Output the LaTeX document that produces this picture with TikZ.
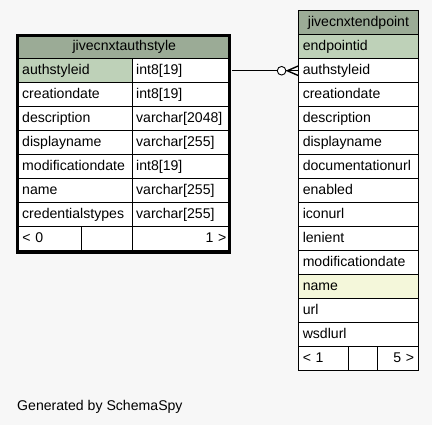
\documentclass[tikz,border=0pt]{standalone}
\usepackage{fontspec}
\setmainfont{Liberation Sans}
\usetikzlibrary{calc}
\definecolor{bgc}{HTML}{F7F7F7}
\definecolor{headc}{HTML}{9BAB96}
\definecolor{pkc}{HTML}{BED1B8}
\definecolor{idxc}{HTML}{F4F7DA}
\tikzset{
  cell/.style={draw=black, line width=0.9pt, fill=white, anchor=north west,
    inner xsep=4pt, inner ysep=0pt, minimum height=24pt,
    text height=10.5pt, text depth=2.5pt,
    font=\fontsize{14.1}{16}\selectfont, align=left},
  headcell/.style={cell, fill=headc, align=center},
  pkcell/.style={cell, fill=pkc},
  idxcell/.style={cell, fill=idxc},
  rcell/.style={cell, align=right},
  conn/.style={line width=0.9pt, draw=black},
}
\begin{document}
\begin{tikzpicture}[x=1pt,y=-1pt]
\fill[bgc] (0,0) rectangle (432,425);
\useasboundingbox (0,0) rectangle (432,425);

% ---------- left table: jivecnxtauthstyle ----------
\node[headcell, text width=203.7pt] (lhead) at (18,34.3) {jivecnxtauthstyle};
\node[pkcell, text width=106.2pt, inner xsep=3.75pt] (l1a) at (18,58.3) {authstyleid};
\node[cell, text width=90.3pt] (l1b) at (131.7,58.3) {int8[19]};
\node[cell, text width=106.2pt, inner xsep=3.75pt] (l2a) at (18,82.3) {creationdate};
\node[cell, text width=90.3pt] (l2b) at (131.7,82.3) {int8[19]};
\node[cell, text width=106.2pt, inner xsep=3.75pt] (l3a) at (18,106.3) {description};
\node[cell, text width=90.3pt] (l3b) at (131.7,106.3) {varchar[2048]};
\node[cell, text width=106.2pt, inner xsep=3.75pt] (l4a) at (18,130.3) {displayname};
\node[cell, text width=90.3pt] (l4b) at (131.7,130.3) {varchar[255]};
\node[cell, text width=106.2pt, inner xsep=3.75pt] (l5a) at (18,154.3) {modificationdate};
\node[cell, text width=90.3pt] (l5b) at (131.7,154.3) {int8[19]};
\node[cell, text width=106.2pt, inner xsep=3.75pt] (l6a) at (18,178.3) {name};
\node[cell, text width=90.3pt] (l6b) at (131.7,178.3) {varchar[255]};
\node[cell, text width=106.2pt, inner xsep=3.75pt] (l7a) at (18,202.3) {credentialstypes};
\node[cell, text width=90.3pt] (l7b) at (131.7,202.3) {varchar[255]};
\node[cell, text width=55pt] (lf1) at (18,226.3) {< 0};
\node[cell, text width=42.7pt] (lf2) at (81,226.3) {};
\node[rcell, text width=90.3pt] (lf3) at (131.7,226.3) {1 >};
\draw[line width=3pt] (17.8,35.8) rectangle (229.7,252.6);

% ---------- right table: jivecnxtendpoint ----------
\node[headcell, text width=111.4pt] (rhead) at (298.3,10.3) {jivecnxtendpoint};
\node[pkcell, text width=111.4pt] (r1) at (298.3,34.3) {endpointid};
\node[cell, text width=111.4pt] (r2) at (298.3,58.3) {authstyleid};
\node[cell, text width=111.4pt] (r3) at (298.3,82.3) {creationdate};
\node[cell, text width=111.4pt] (r4) at (298.3,106.3) {description};
\node[cell, text width=111.4pt] (r5) at (298.3,130.3) {displayname};
\node[cell, text width=111.4pt] (r6) at (298.3,154.3) {documentationurl};
\node[cell, text width=111.4pt] (r7) at (298.3,178.3) {enabled};
\node[cell, text width=111.4pt] (r8) at (298.3,202.3) {iconurl};
\node[cell, text width=111.4pt] (r9) at (298.3,226.3) {lenient};
\node[cell, text width=111.4pt] (r10) at (298.3,250.3) {modificationdate};
\node[idxcell, text width=111.4pt] (r11) at (298.3,274.3) {name};
\node[cell, text width=111.4pt] (r12) at (298.3,298.3) {url};
\node[cell, text width=111.4pt] (r13) at (298.3,322.3) {wsdlurl};
\node[cell, text width=42pt] (rf1) at (298.3,346.3) {< 1};
\node[cell, text width=21pt] (rf2) at (348.3,346.3) {};
\node[rcell, text width=32.4pt] (rf3) at (377.3,346.3) {5 >};

% ---------- connector ----------
\coordinate (ring) at ($(r2.west)+(-16.7pt,0)$);
\coordinate (fork) at ($(r2.west)+(-11pt,0)$);
\draw[conn] ($(l1b.east)+(1.5pt,0)$) -- ($(ring)+(-4.3pt,0)$);
\draw[conn, fill=white] (ring) circle[radius=4.3pt];
\draw[conn] ($(ring)+(4.3pt,0)$) -- (r2.west);
\draw[line width=1.4pt] ($(r2.west)+(0,4.8pt)$) -- (fork) -- ($(r2.west)+(0,-4.8pt)$);

% ---------- footer ----------
\node[anchor=base west, inner sep=0pt, font=\fontsize{14.1}{16}\selectfont] (gen) at (17,410) {Generated by SchemaSpy};
\end{tikzpicture}
\end{document}
